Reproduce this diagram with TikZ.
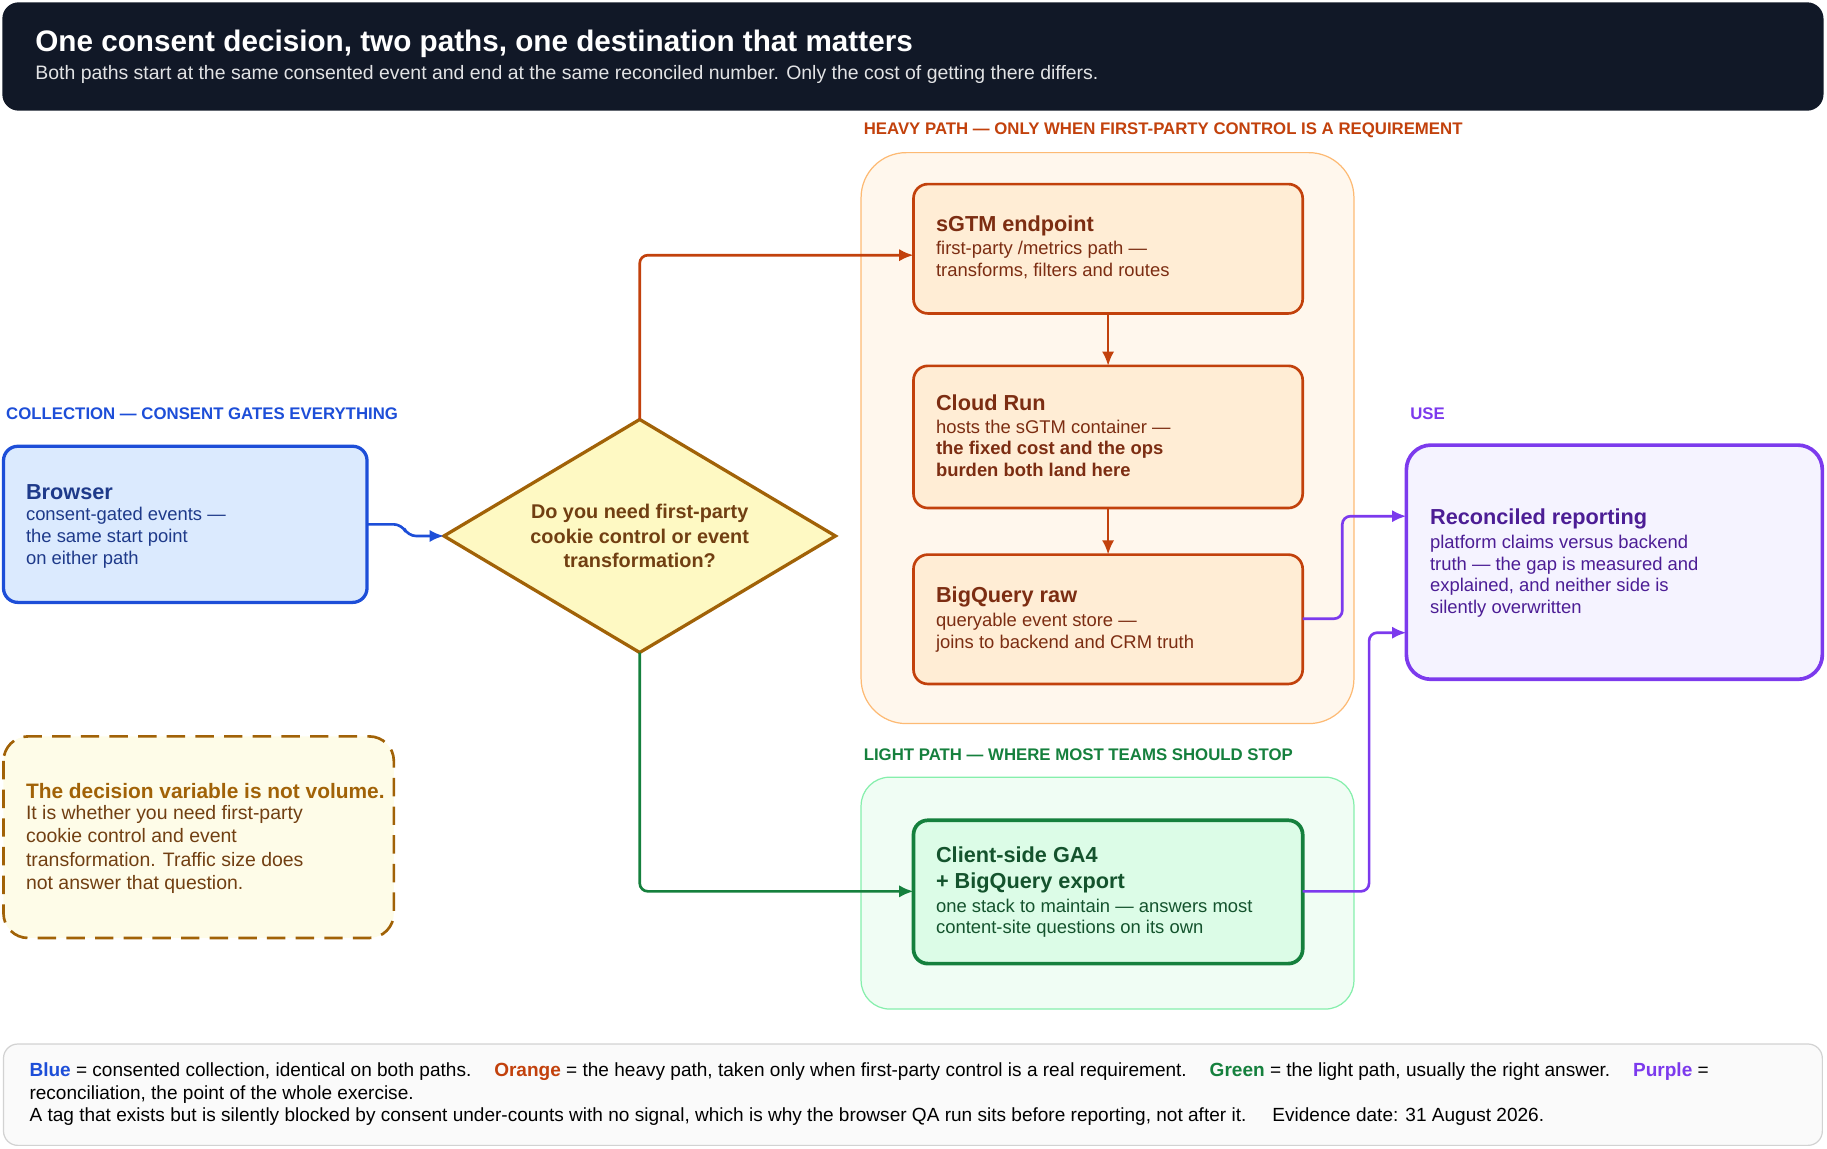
\documentclass[tikz,border=0pt]{standalone}
\usepackage{fontspec}
\setmainfont{Liberation Sans}
\usetikzlibrary{arrows.meta,shapes.geometric}
\definecolor{hdr}{HTML}{111827}
\definecolor{blu}{HTML}{1D4ED8}
\definecolor{bluT}{HTML}{1E3A8A}
\definecolor{bluF}{HTML}{DBEAFE}
\definecolor{org}{HTML}{C2410C}
\definecolor{orgT}{HTML}{7C2D12}
\definecolor{orgF}{HTML}{FFEDD5}
\definecolor{orgC}{HTML}{FFF7ED}
\definecolor{orgB}{HTML}{FDBA74}
\definecolor{grn}{HTML}{15803D}
\definecolor{grnT}{HTML}{14532D}
\definecolor{grnF}{HTML}{DCFCE7}
\definecolor{grnC}{HTML}{F0FDF4}
\definecolor{grnB}{HTML}{86EFAC}
\definecolor{pur}{HTML}{7C3AED}
\definecolor{purT}{HTML}{4C1D95}
\definecolor{purF}{HTML}{F5F3FF}
\definecolor{ylw}{HTML}{A16207}
\definecolor{ylwT}{HTML}{713F12}
\definecolor{ylwF}{HTML}{FEF9C3}
\definecolor{ylwN}{HTML}{FEFCE8}

\begin{document}
\begin{tikzpicture}[x=0.02cm,y=-0.02cm]
\tikzset{box/.style = {draw, line width=1.3pt, rounded corners=7pt}}
\tikzset{txt/.style = {anchor=north west, align=left, inner sep=0pt, font=\fontsize{9}{10.6}\selectfont}}
\tikzset{ttl/.style = {anchor=west, inner sep=0pt, font=\fontsize{10.6}{13}\selectfont\bfseries}}
\tikzset{tag/.style = {anchor=west, inner sep=0pt, font=\fontsize{8.2}{9}\selectfont\bfseries}}
\tikzset{link/.style = {line width=1.3pt, rounded corners=4pt, -{Latex[length=7pt,width=6pt]}}}
\useasboundingbox (0,0) rectangle (1568,986);

% header
\fill[hdr, rounded corners=8pt] (2,2) rectangle (1565,95);
\node[anchor=west, inner sep=0pt, text=white, font=\fontsize{14.5}{16}\selectfont\bfseries] at (30,38) {One consent decision, two paths, one destination that matters};
\node[anchor=west, inner sep=0pt, text=white!88!hdr, font=\fontsize{9.5}{10}\selectfont] at (30,64) {Both paths start at the same consented event and end at the same reconciled number. Only the cost of getting there differs.};

% containers
\node[tag, text=org] (heavytag) at (741,112) {HEAVY PATH — ONLY WHEN FIRST-PARTY CONTROL IS A REQUIREMENT};
\draw[orgB, fill=orgC, rounded corners=22pt, line width=0.6pt] (739,131) rectangle (1162,621);
\node[tag, text=grn] (lighttag) at (741,648) {LIGHT PATH — WHERE MOST TEAMS SHOULD STOP};
\draw[grnB, fill=grnC, rounded corners=14pt, line width=0.6pt] (739,667) rectangle (1162,866);
\node[tag, text=blu] (colltag) at (5,355) {COLLECTION — CONSENT GATES EVERYTHING};
\node[tag, text=pur] (usetag) at (1210,355) {USE};

% heavy path boxes
\draw[box, org, fill=orgF] (784,158) rectangle (1118,269);
\node[ttl, text=orgT] (sgtm) at (803,194) {sGTM endpoint};
\node[txt, text=orgT] at (803,207) {first-party /metrics path —\\transforms, filters and routes};
\draw[box, org, fill=orgF] (784,314) rectangle (1118,436);
\node[ttl, text=orgT] (run) at (803,346) {Cloud Run};
\node[txt, text=orgT] at (803,360) {hosts the sGTM container —\\\textbf{the fixed cost and the ops}\\\textbf{burden both land here}};
\draw[box, org, fill=orgF] (784,476) rectangle (1118,587);
\node[ttl, text=orgT] (raw) at (803,512) {BigQuery raw};
\node[txt, text=orgT] at (803,526) {queryable event store —\\joins to backend and CRM truth};
\draw[link, org] (951,269) -- (951,314);
\draw[link, org] (951,436) -- (951,476);

% light path box
\draw[box, grn, fill=grnF, line width=1.8pt] (784,704) rectangle (1118,827);
\node[anchor=north west, align=left, inner sep=0pt, text=grnT, font=\fontsize{10.6}{13}\selectfont\bfseries] (ga4) at (803,726) {Client-side GA4\\+ BigQuery export};
\node[txt, text=grnT] at (803,771) {one stack to maintain — answers most\\content-site questions on its own};

% browser
\draw[box, blu, fill=bluF, line width=1.6pt] (3,383) rectangle (315,517);
\node[ttl, text=bluT] (browser) at (22,422) {Browser};
\node[txt, text=bluT] at (22,435) {consent-gated events —\\the same start point\\on either path};

% decision
\draw[ylw, fill=ylwF, line width=1.6pt] (381,460) -- (549,360) -- (717,460) -- (549,560) -- cycle;
\node[align=center, text=ylwT, font=\fontsize{9.7}{12}\selectfont\bfseries] (dec) at (549,460) {Do you need first-party\\cookie control or event\\transformation?};

% reconciled
\draw[box, pur, fill=purF, line width=1.8pt, rounded corners=12pt] (1207,382) rectangle (1564,583);
\node[ttl, text=purT] (recon) at (1227,445) {Reconciled reporting};
\node[txt, text=purT] at (1227,459) {platform claims versus backend\\truth — the gap is measured and\\explained, and neither side is\\silently overwritten};

% connectors
\draw[link, blu] (315,450) -- (345,450) -- (350,460) -- (381,460);
\draw[link, org] (549,360) -- (549,219) -- (784,219);
\draw[link, grn] (549,560) -- (549,765) -- (784,765);
\draw[link, pur] (1118,531) -- (1152,531) -- (1152,443) -- (1207,443);
\draw[link, pur] (1118,765) -- (1175,765) -- (1175,543) -- (1207,543);

% note
\draw[ylw, fill=ylwN, line width=1.3pt, dash pattern=on 9pt off 5pt, rounded corners=12pt] (3,632) rectangle (338,805);
\node[anchor=west, inner sep=0pt, text=ylw, font=\fontsize{10.2}{12}\selectfont\bfseries] (note) at (22,679) {The decision variable is not volume.};
\node[anchor=north west, align=left, inner sep=0pt, text=ylwT, font=\fontsize{9.5}{11.35}\selectfont] at (22,691) {It is whether you need first-party\\cookie control and event\\transformation. Traffic size does\\not answer that question.};

% legend
\draw[gray!35, fill=gray!4, rounded corners=7pt, line width=0.6pt] (3,896) rectangle (1564,983);
\node[anchor=north west, align=left, inner sep=0pt, font=\fontsize{9.3}{11}\selectfont] (legend) at (25,912) {\textcolor{blu}{\bfseries Blue} = consented collection, identical on both paths.\hspace{1.2em}\textcolor{org}{\bfseries Orange} = the heavy path, taken only when first-party control is a real requirement.\hspace{1.2em}\textcolor{grn}{\bfseries Green} = the light path, usually the right answer.\hspace{1.2em}\textcolor{pur}{\bfseries Purple} =\\reconciliation, the point of the whole exercise.\\A tag that exists but is silently blocked by consent under-counts with no signal, which is why the browser QA run sits before reporting, not after it.\hspace{1em} Evidence date: 31 August 2026.};
\end{tikzpicture}
\end{document}
